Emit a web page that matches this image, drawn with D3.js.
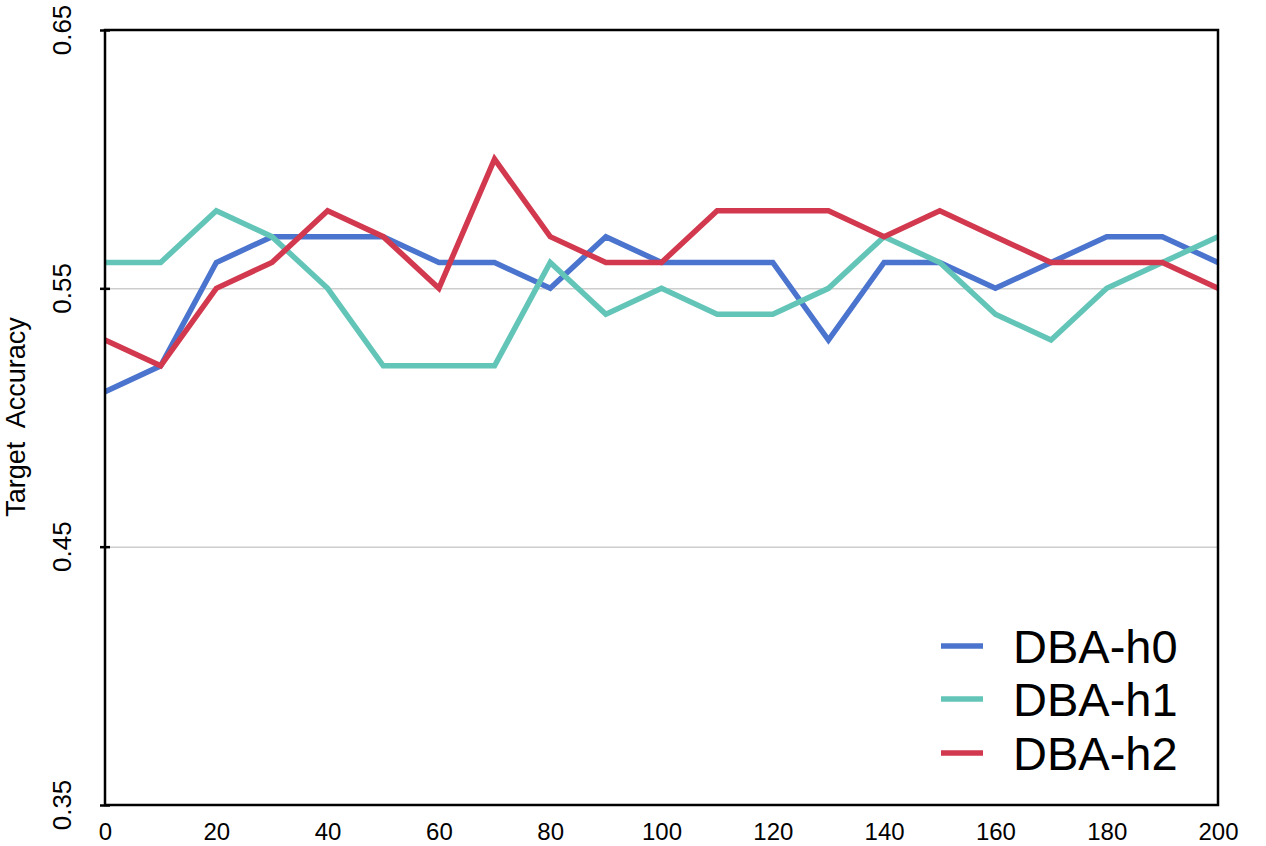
<!DOCTYPE html>
<html>
<head>
<meta charset="utf-8">
<script src="https://cdn.jsdelivr.net/npm/d3@7"></script>
<style>
  html, body { margin: 0; padding: 0; background: #fff; }
  svg { display: block; font-family: "Liberation Sans", Arial, sans-serif; }
</style>
</head>
<body>
<svg id="chart" width="1266" height="846"></svg>
<script>
const steps = [0,10,20,30,40,50,60,70,80,90,100,110,120,130,140,150,160,170,180,190,200];
const h0 = [0.51,0.52,0.56,0.57,0.57,0.57,0.56,0.56,0.55,0.57,0.56,0.56,0.56,0.53,0.56,0.56,0.55,0.56,0.57,0.57,0.56];
const h1 = [0.56,0.56,0.58,0.57,0.55,0.52,0.52,0.52,0.56,0.54,0.55,0.54,0.54,0.55,0.57,0.56,0.54,0.53,0.55,0.56,0.57];
const h2 = [0.53,0.52,0.55,0.56,0.58,0.57,0.55,0.60,0.57,0.56,0.56,0.58,0.58,0.58,0.57,0.58,0.57,0.56,0.56,0.56,0.55];
const seriesNames = ["DBA-h0","DBA-h1","DBA-h2"];
const seriesColors = ["#4A74CD","#63C5B8","#D2394F"];
const yTicks = [0.35,0.45,0.55,0.65];
const yGrid = [0.45,0.55];
const xTicks = [0,20,40,60,80,100,120,140,160,180,200];
const yLabel = "Target  Accuracy";

const series = [h0,h1,h2].map((v,i)=>({name:seriesNames[i], color:seriesColors[i], values:v}));

const W = 1266, H = 846;
const m = {left:105, right:48, top:30, bottom:41};
const iw = W - m.left - m.right, ih = H - m.top - m.bottom;

const svg = d3.select("#chart");
const g = svg.append("g").attr("transform",`translate(${m.left},${m.top})`);

const x = d3.scaleLinear().domain([0,200]).range([0,iw]);
const y = d3.scaleLinear().domain([0.35,0.65]).range([ih,0]);

// gridlines
g.append("g")
  .call(d3.axisLeft(y).tickValues(yGrid).tickSize(-iw).tickFormat(""))
  .call(a=>a.select(".domain").remove())
  .call(a=>a.selectAll("line").attr("stroke","#b5b5b5").attr("stroke-width",1));

// lines
const line = d3.line().x((d,i)=>x(steps[i])).y(d=>y(d));
g.selectAll(".series").data(series).enter().append("path")
  .attr("fill","none")
  .attr("stroke",d=>d.color)
  .attr("stroke-width",5.5)
  .attr("stroke-linejoin","miter")
  .attr("d",d=>line(d.values));

// frame
g.append("rect").attr("x",0).attr("y",0).attr("width",iw).attr("height",ih)
  .attr("fill","none").attr("stroke","#000").attr("stroke-width",2.5);

// y axis ticks (crossing)
const ya = g.append("g")
  .call(d3.axisLeft(y).tickValues(yTicks).tickSize(5).tickFormat(""));
ya.select(".domain").remove();
ya.selectAll(".tick line").attr("x1",5).attr("x2",-5).attr("stroke","#000").attr("stroke-width",2.5);

// y tick labels (rotated)
g.selectAll(".ylab").data(yTicks).enter().append("text")
  .attr("transform",d=>`translate(${71-m.left},${y(d)}) rotate(-90)`)
  .attr("text-anchor","middle")
  .attr("font-size",26)
  .attr("fill","#000")
  .text(d=>d3.format(".2f")(d));

// x axis labels
const xa = g.append("g").attr("transform",`translate(0,${ih})`)
  .call(d3.axisBottom(x).tickValues(xTicks).tickSize(0).tickPadding(0));
xa.select(".domain").remove();
xa.selectAll("text").attr("font-size",24).attr("fill","#000")
  .attr("font-family","Liberation Sans, Arial, sans-serif")
  .attr("dy",null).attr("y",35);

// y axis title
svg.append("text")
  .attr("transform",`translate(25,417) rotate(-90)`)
  .attr("text-anchor","middle")
  .attr("font-size",27)
  .attr("fill","#000")
  .style("white-space","pre")
  .attr("xml:space","preserve")
  .text(yLabel);

// legend
const lg = svg.append("g");
const lgY = [646,699,753];
series.forEach((s,i)=>{
  lg.append("line").attr("x1",941).attr("x2",983).attr("y1",lgY[i]).attr("y2",lgY[i])
    .attr("stroke",s.color).attr("stroke-width",5.5);
  lg.append("text").attr("x",1013).attr("y",lgY[i]+17)
    .attr("font-size",47).attr("fill","#000").text(s.name);
});
</script>
</body>
</html>
